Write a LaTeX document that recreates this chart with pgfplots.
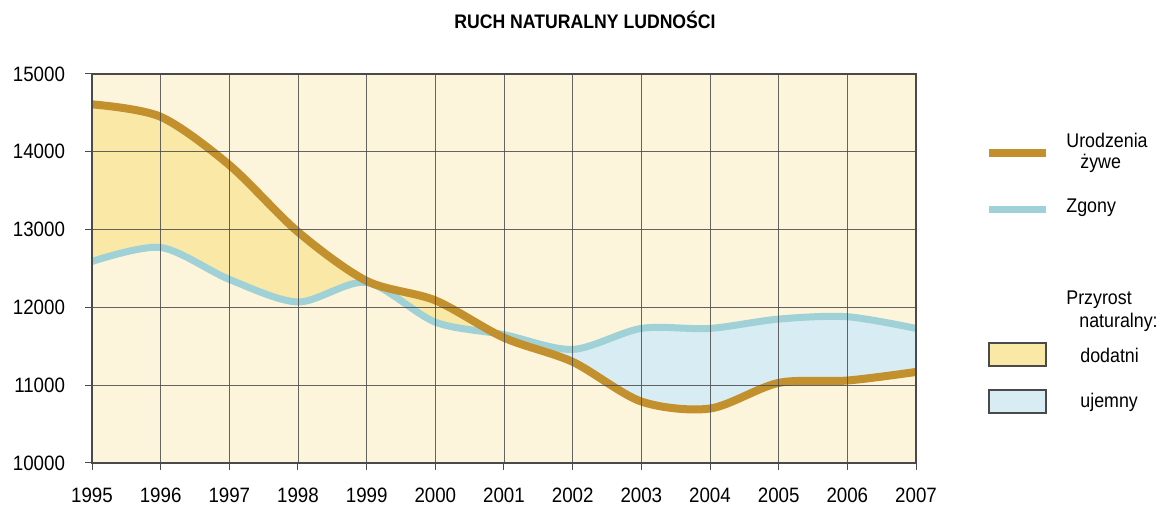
\documentclass[border=0pt]{standalone}
\usepackage{fontspec}
\setmainfont{Liberation Sans}[FakeStretch=0.9]
\usepackage{pgfplots}
\pgfplotsset{compat=1.18}
\usepgfplotslibrary{fillbetween}
\definecolor{bg}{HTML}{FDF4DC}
\definecolor{yel}{HTML}{FAE8A6}
\definecolor{blu}{HTML}{D8ECF3}
\definecolor{birth}{HTML}{C2902C}
\definecolor{death}{HTML}{9FD1D6}
\definecolor{gridc}{HTML}{4A4A4A}
\pgfplotstableread{
year births deaths
1995 14610 12590
1996 14450 12770
1997 13830 12360
1998 12970 12070
1999 12340 12320
2000 12090 11810
2001 11610 11650
2002 11300 11460
2003 10790 11730
2004 10700 11730
2005 11030 11850
2006 11060 11880
2007 11170 11730
}\data
\begin{document}
\begin{tikzpicture}
\begin{axis}[
  axis on top,
  at={(46pt,22.5pt)}, anchor=south west, scale only axis,
  width=412pt, height=194.5pt,
  xmin=1995, xmax=2007, ymin=10000, ymax=15000,
  xtick={1995,1996,...,2007}, ytick={10000,11000,...,15000},
  scaled y ticks=false,
  grid=major, major grid style={gridc, line width=0.45pt, opacity=0.85},
  axis line style={gridc, line width=0.6pt},
  tick style={gridc, line width=0.5pt},
  tick align=outside, tick pos=left, major tick length=3.5pt,
  axis background/.style={fill=bg},
  /pgf/number format/1000 sep={},
  /pgf/number format/assume math mode=true,
  ticklabel style={font=\fontsize{10.4}{12}\selectfont},
  xticklabel style={yshift=-5.5pt},
  yticklabel style={xshift=-6.5pt},
]
\addplot[draw=none, smooth, name path=D, forget plot] table[x=year, y=deaths] {\data};
\addplot[draw=none, smooth, name path=B, forget plot] table[x=year, y=births] {\data};
\addplot[yel, forget plot] fill between[of=B and D, soft clip={domain=1995:2000.8}];
\addplot[blu, forget plot] fill between[of=B and D, soft clip={domain=2000.8:2007}];
\addplot[death, line width=3.5pt, smooth] table[x=year, y=deaths] {\data};
\addplot[birth, line width=4pt, smooth] table[x=year, y=births] {\data};
\end{axis}
\node at (292.5pt,244pt) {\fontsize{9.8}{11}\selectfont\bfseries RUCH NATURALNY LUDNOŚCI};
\begin{scope}[every node/.style={anchor=west, inner sep=0pt, font=\fontsize{9.9}{12}\selectfont}]
\draw[birth, line width=4pt] (494.5pt,177.5pt) -- (523pt,177.5pt);
\node at (533pt,184pt) {Urodzenia};
\node at (540pt,172.5pt) {żywe};
\draw[death, line width=3.5pt] (494.5pt,149pt) -- (523pt,149pt);
\node at (533pt,150pt) {Zgony};
\node at (533pt,104pt) {Przyrost};
\node at (539.5pt,93pt) {naturalny:};
\draw[gridc, line width=0.7pt, fill=yel] (494.5pt,71pt) rectangle (523pt,82.5pt);
\node at (540pt,76.5pt) {dodatni};
\draw[gridc, line width=0.7pt, fill=blu] (494.5pt,47.5pt) rectangle (523pt,59pt);
\node at (540pt,53pt) {ujemny};
\end{scope}
\pgfresetboundingbox
\path[use as bounding box] (0,0) rectangle (578.5pt,254pt);
\end{tikzpicture}
\end{document}
